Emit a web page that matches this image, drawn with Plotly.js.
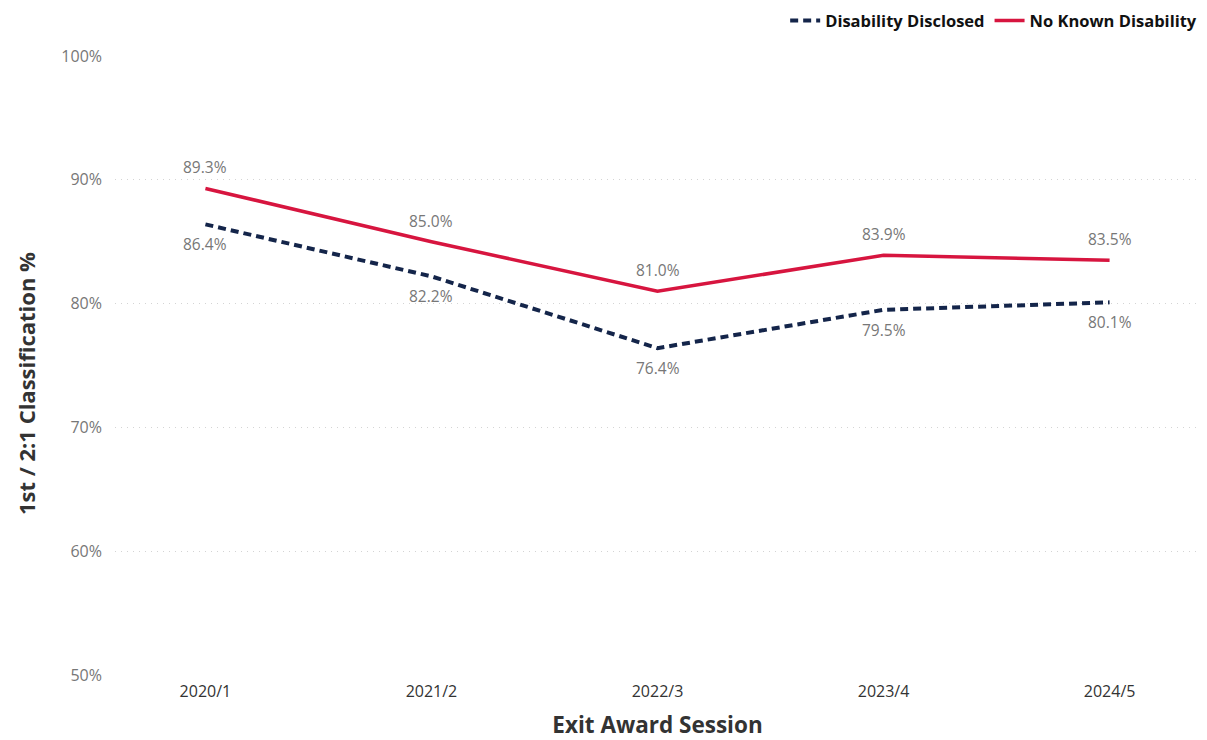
<!DOCTYPE html>
<html>
<head>
<meta charset="utf-8">
<script src="https://cdn.plot.ly/plotly-3.0.1.min.js"></script>
<style>html,body{margin:0;padding:0;background:#fff;}#chart{width:1207px;height:740px;}</style>
</head>
<body>
<div id="chart"></div>
<script>
const sessions = ["2020/1", "2021/2", "2022/3", "2023/4", "2024/5"];
const disclosed = [86.4, 82.2, 76.4, 79.5, 80.1];
const noKnown = [89.3, 85.0, 81.0, 83.9, 83.5];
const yTicks = [50, 60, 70, 80, 90, 100];
const yTickText = ["50%", "60%", "70%", "80%", "90%", "100%"];

const fmt = v => v.toFixed(1) + "%";
const FONT = "Open Sans, sans-serif";
const labelFont = {family: FONT, size: 15.5, color: "#777"};

const traces = [
  {
    x: sessions, y: disclosed, name: "Disability Disclosed",
    type: "scatter", mode: "lines",
    line: {color: "#14254a", width: 4, dash: "8px,5px"}
  },
  {
    x: sessions, y: noKnown, name: "No Known Disability",
    type: "scatter", mode: "lines",
    line: {color: "#d7153f", width: 3.5}
  }
];

const annotations = [];
sessions.forEach((s, i) => {
  annotations.push({x: s, y: noKnown[i], text: fmt(noKnown[i]), showarrow: false, yshift: 21, font: labelFont});
  annotations.push({x: s, y: disclosed[i], text: fmt(disclosed[i]), showarrow: false, yshift: -20, font: labelFont});
});
annotations.push({
  xref: "paper", yref: "paper", x: -0.082, y: 0.47, xanchor: "center", yanchor: "middle",
  text: "1st / 2:1 Classification %", textangle: -90, showarrow: false,
  font: {family: FONT, size: 22, color: "#333", weight: "bold"}
});

const layout = {
  width: 1207, height: 740,
  margin: {l: 115, r: 7, t: 56, b: 65, autoexpand: false},
  paper_bgcolor: "#fff", plot_bgcolor: "#fff",
  font: {family: FONT, color: "#333"},
  showlegend: true,
  legend: {
    orientation: "h", x: 1.002, xanchor: "right", y: 1.085, yanchor: "top",
    font: {family: FONT, size: 16.5, color: "#111", weight: "bold"},
    itemwidth: 30, tracegroupgap: 0
  },
  annotations: annotations,
  xaxis: {
    type: "category", range: [-0.4, 4.4],
    showgrid: false, zeroline: false, showline: false,
    tickfont: {family: FONT, size: 16, color: "#333"},
    ticks: "", ticklabelstandoff: 5,
    title: {text: "Exit Award Session", font: {family: FONT, size: 22.5, color: "#333", weight: "bold"}, standoff: 17}
  },
  yaxis: {
    range: [50, 100], tickvals: yTicks, ticktext: yTickText,
    showgrid: true, gridcolor: "#d4d4d4", griddash: "1px,5px", gridwidth: 1,
    zeroline: false, showline: false, ticks: "",
    tickfont: {family: FONT, size: 16, color: "#777"},
    ticklabelstandoff: 12
  }
};

Plotly.newPlot("chart", traces, layout, {displayModeBar: false, staticPlot: true});
</script>
</body>
</html>
